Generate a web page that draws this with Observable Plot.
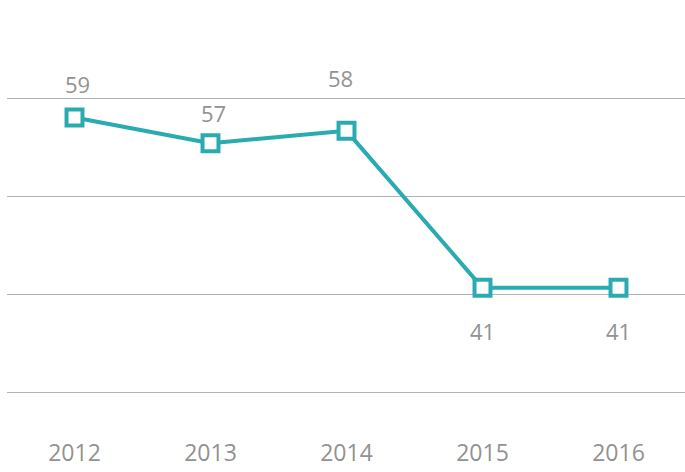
<!DOCTYPE html>
<html>
<head>
<meta charset="utf-8">
<script src="https://cdn.jsdelivr.net/npm/d3@7"></script>
<script src="https://cdn.jsdelivr.net/npm/@observablehq/plot@0.6"></script>
<style>
  html, body { margin: 0; padding: 0; background: #fff; }
  #chart svg { display: block; }
</style>
</head>
<body>
<div id="chart"></div>
<script>
const years = ["2012", "2013", "2014", "2015", "2016"];
const values = [59.3, 56.6, 57.9, 41.4, 41.4];
const labels = ["59", "57", "58", "41", "41"];
const gridTicks = [30.4, 40.7, 51.0, 61.3];

const data = years.map((year, i) => ({ year, value: values[i], label: labels[i], i }));

const teal = "#2aabb1";
const grey = "#929292";

const chart = Plot.plot({
  width: 685,
  height: 472,
  marginLeft: 7,
  marginRight: 0,
  marginTop: 0,
  marginBottom: 40,
  style: { fontFamily: "'Open Sans', sans-serif", background: "#fff", fontWeight: 500 },
  x: { type: "point", domain: years, padding: 0.49, label: null },
  y: { domain: [30.4, 61.3], range: [392, 98], axis: null },
  marks: [
    Plot.ruleY(gridTicks, { stroke: "#b3b3b3", strokeWidth: 1.2 }),
    Plot.axisX({ tickSize: 0, tickPadding: 12, fontSize: 23, fontWeight: 500, label: null, fill: grey }),
    Plot.line(data, { x: "year", y: "value", stroke: teal, strokeWidth: 4 }),
    Plot.dot(data, { x: "year", y: "value", symbol: "square", r: 9, fill: "#fff", stroke: teal, strokeWidth: 4 }),
    Plot.text(data.filter(d => d.i === 0), { x: "year", y: "value", text: "label", dy: -32, dx: 3, fontSize: 22, fontWeight: 500, fill: grey }),
    Plot.text(data.filter(d => d.i === 1), { x: "year", y: "value", text: "label", dy: -28, dx: 3, fontSize: 22, fontWeight: 500, fill: grey }),
    Plot.text(data.filter(d => d.i === 2), { x: "year", y: "value", text: "label", dy: -51, dx: -6, fontSize: 22, fontWeight: 500, fill: grey }),
    Plot.text(data.filter(d => d.i >= 3), { x: "year", y: "value", text: "label", dy: 45, fontSize: 22, fontWeight: 500, fill: grey })
  ]
});
document.getElementById("chart").appendChild(chart);
</script>
</body>
</html>
